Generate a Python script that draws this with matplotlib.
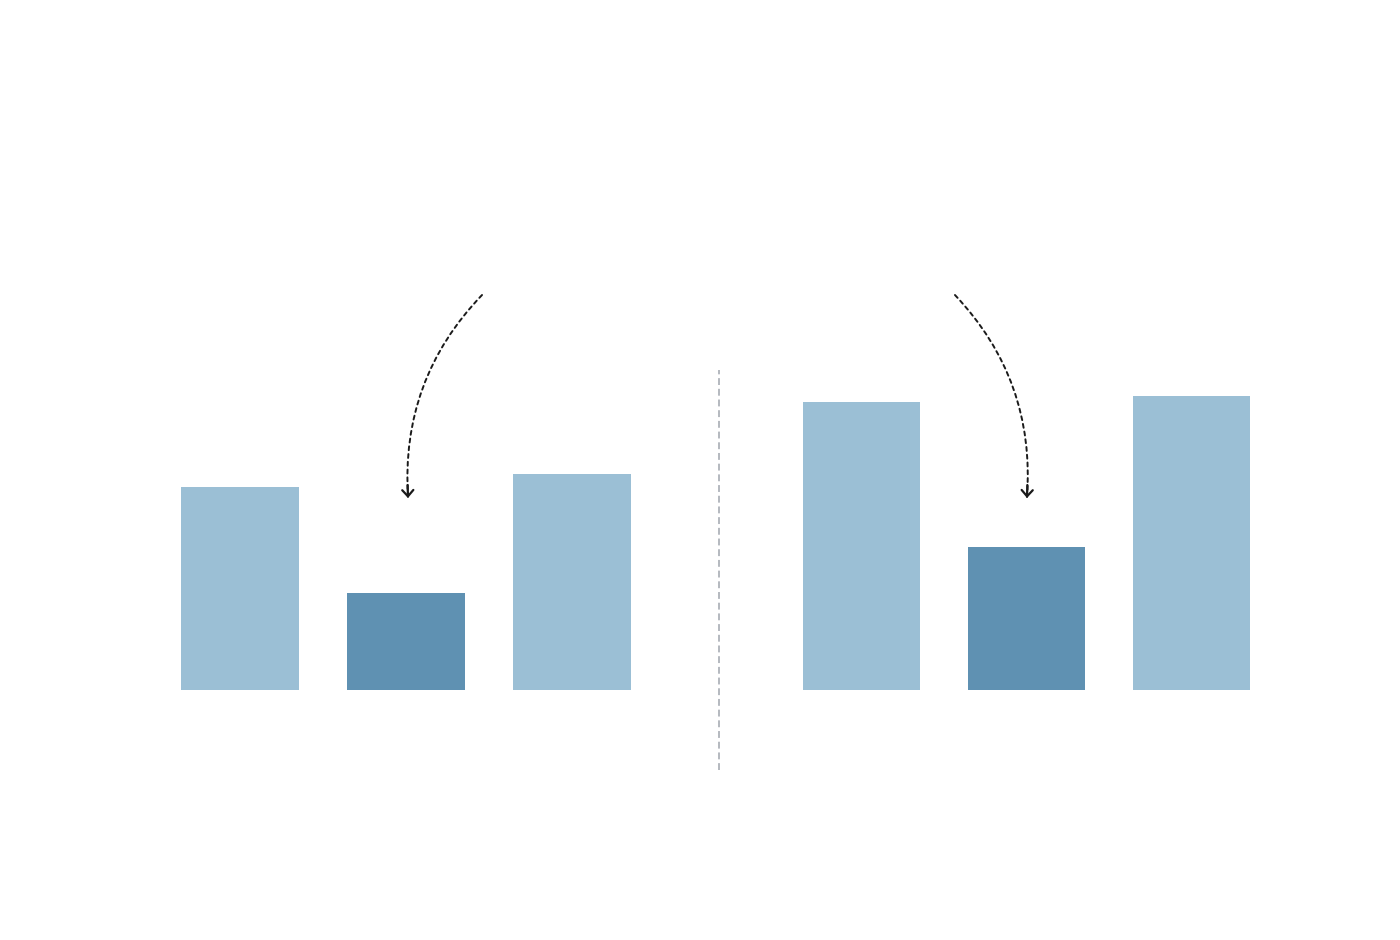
import matplotlib
matplotlib.use("Agg")
import matplotlib.pyplot as plt

# bar heights (arbitrary units)
left_values = [203, 97, 216]
right_values = [288, 143, 294]
left_pos = [0, 1, 2]
right_pos = [3.746, 4.74, 5.734]
bar_colors = ["#9bbfd5", "#5f91b2", "#9bbfd5"]

fig = plt.figure(figsize=(14, 9.4), dpi=100)
ax = fig.add_axes([0, 0, 1, 1])

ax.bar(left_pos, left_values, width=0.705, color=bar_colors)
ax.bar(right_pos, right_values, width=0.705, color=bar_colors)

# separator between the two groups
ax.plot([2.885, 2.885], [-80, 320], color="#a0a5ae", lw=1.1, linestyle=(0, (4.5, 2.5)))

# dashed curved arrows pointing at the middle bars
line_kw = dict(arrowstyle="-", color="#1a1a1a", lw=1.4,
               linestyle=(0, (2, 2)), shrinkA=0, shrinkB=0)
head_kw = dict(arrowstyle="->,head_length=0.45,head_width=0.4", color="#1a1a1a",
               lw=1.6, shrinkA=0, shrinkB=0)
ax.annotate("", xy=(1.012, 193), xytext=(1.458, 395),
            arrowprops=dict(connectionstyle="arc3,rad=0.22", **line_kw))
ax.annotate("", xy=(1.012, 192), xytext=(1.010, 205), arrowprops=head_kw)
ax.annotate("", xy=(4.741, 193), xytext=(4.307, 395),
            arrowprops=dict(connectionstyle="arc3,rad=-0.22", **line_kw))
ax.annotate("", xy=(4.741, 192), xytext=(4.743, 205), arrowprops=head_kw)

ax.set_xlim(-240 / 166, 1160 / 166)
ax.set_ylim(-250, 690)
ax.axis("off")

fig.savefig("out.png", dpi=100, facecolor="white")
